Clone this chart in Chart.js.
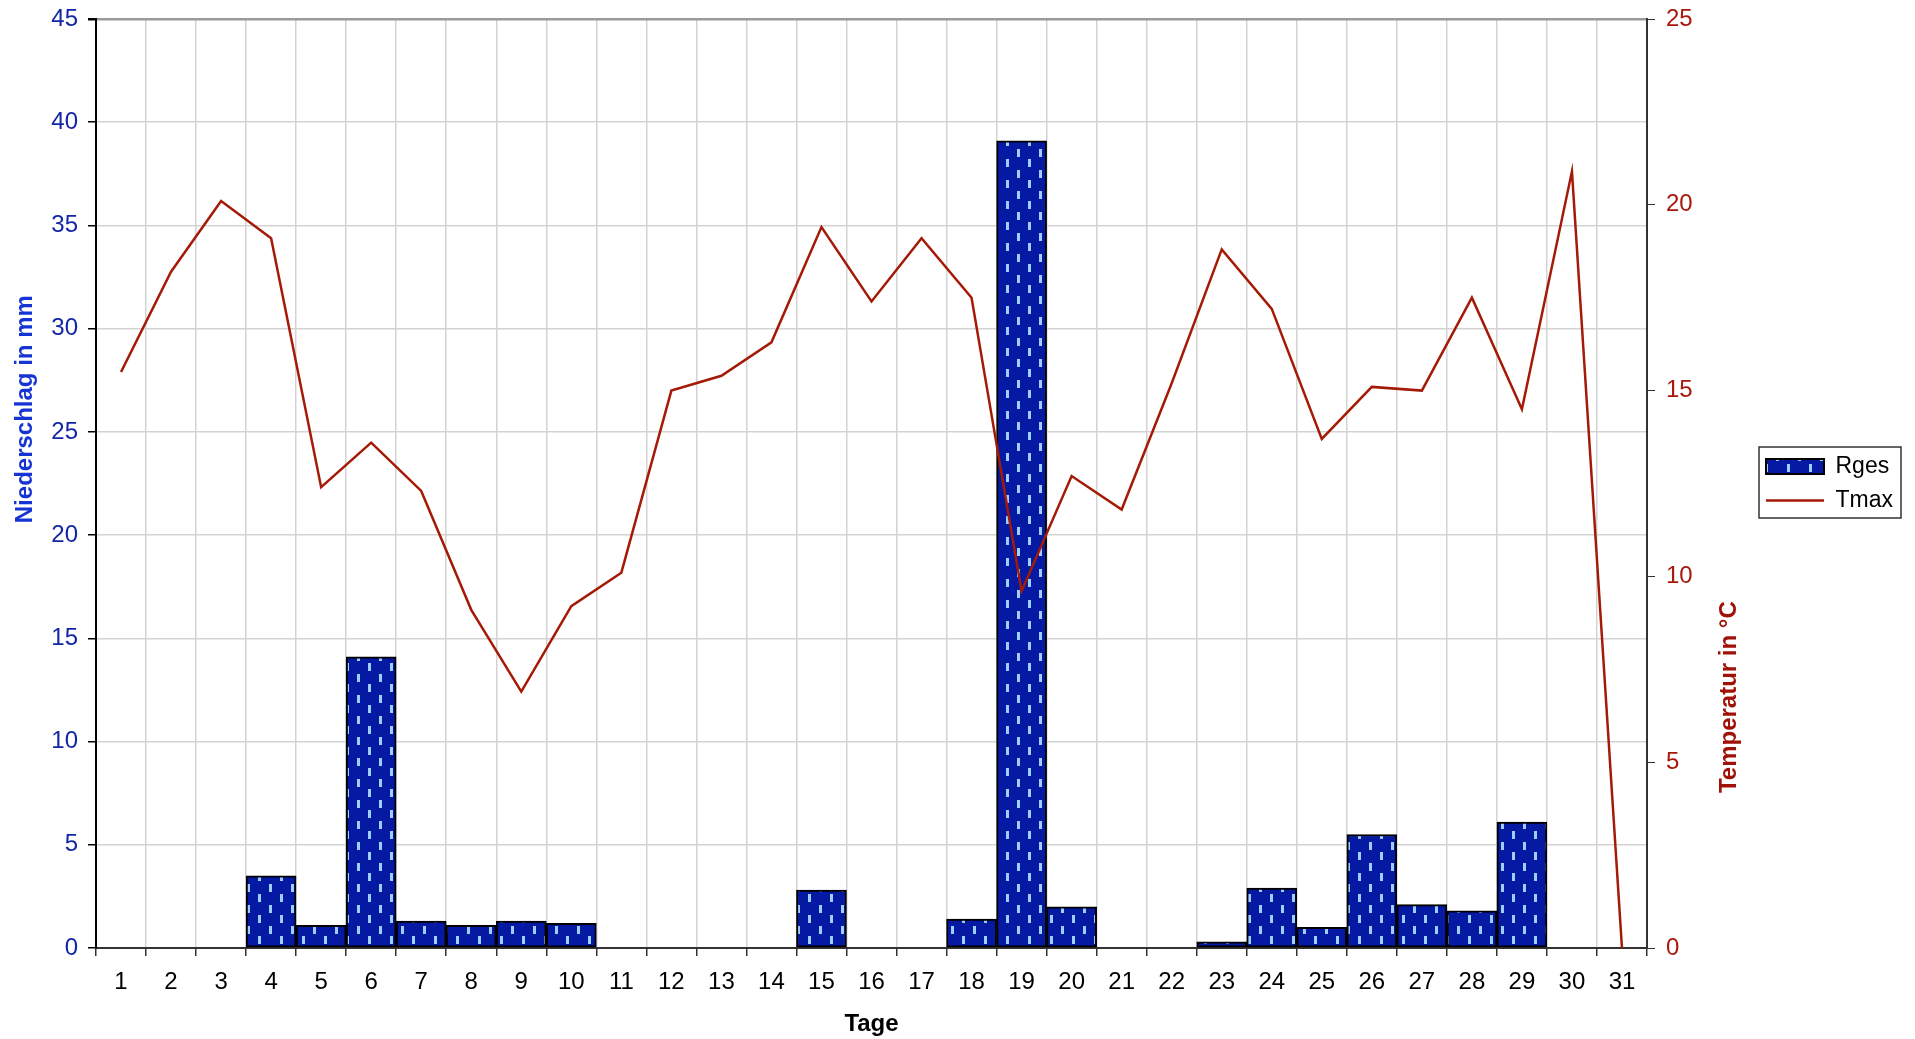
<!DOCTYPE html>
<html lang="de">
<head>
<meta charset="utf-8">
<title>Niederschlag und Temperatur</title>
<script src="https://cdn.jsdelivr.net/npm/chart.js@4.4.1/dist/chart.umd.min.js"></script>
<style>
  html, body { margin: 0; padding: 0; background: #fff; overflow: hidden; }
  canvas { display: block; }
</style>
</head>
<body>
<canvas id="chart" width="1915" height="1039"></canvas>
<script>
// Tage des Monats
var tage = ['1', '2', '3', '4', '5', '6', '7', '8', '9', '10', '11', '12', '13', '14', '15', '16',
            '17', '18', '19', '20', '21', '22', '23', '24', '25', '26', '27', '28', '29', '30', '31'];

// Niederschlag (mm)
var rges = [0, 0, 0, 3.5, 1.1, 14.1, 1.3, 1.1, 1.3, 1.2, 0, 0, 0, 0, 2.8, 0,
            0, 1.4, 39.1, 2.0, 0, 0, 0.3, 2.9, 1.0, 5.5, 2.1, 1.8, 6.1, 0, 0];

// Temperatur max (°C)
var tmax = [15.5, 18.2, 20.1, 19.1, 12.4, 13.6, 12.3, 9.1, 6.9, 9.2, 10.1, 15.0, 15.4, 16.3, 19.4, 17.4,
            19.1, 17.5, 9.6, 12.7, 11.8, 15.2, 18.8, 17.2, 13.7, 15.1, 15.0, 17.5, 14.5, 20.9, 0];

// Achsenbereiche
var niederschlagAchse = [0, 45, 5];   // min, max, step
var temperaturAchse = [0, 25, 5];

var blau = '#1226a6';
var rot = '#a8180c';

Chart.defaults.font.family = '"Liberation Sans", Arial, sans-serif';

function regenMuster() {
    var c = document.createElement('canvas');
    c.width = 22;
    c.height = 21;
    var g = c.getContext('2d');
    g.fillStyle = '#0519a3';
    g.fillRect(0, 0, 22, 21);
    g.fillStyle = '#9ccfff';
    g.fillRect(5, 2, 3, 8);
    g.fillRect(16, 12, 3, 8);
    return g.createPattern(c, 'repeat');
}

// Achsentitel sitzen nicht mittig, daher selbst zeichnen
var seitenTitel = {
    id: 'seitenTitel',
    afterDraw: function (chart) {
        var ctx = chart.ctx;
        var area = chart.chartArea;
        var h = area.bottom - area.top;
        ctx.save();
        ctx.font = 'bold 24px "Liberation Sans", Arial, sans-serif';
        ctx.textAlign = 'center';
        ctx.textBaseline = 'middle';

        ctx.save();
        ctx.translate(chart.scales.y.left + 25, area.top + 0.42 * h);
        ctx.rotate(-Math.PI / 2);
        ctx.fillStyle = '#1634d4';
        ctx.fillText('Niederschlag in mm', 0, 0);
        ctx.restore();

        ctx.save();
        ctx.translate(chart.scales.y1.left + 82, area.top + 0.73 * h);
        ctx.rotate(-Math.PI / 2);
        ctx.fillStyle = '#a01208';
        ctx.fillText('Temperatur in °C', 0, 0);
        ctx.restore();

        ctx.restore();
    }
};

// Rahmen um die Legende
var legendenRahmen = {
    id: 'legendenRahmen',
    afterDraw: function (chart) {
        var boxes = chart.legend && chart.legend.legendHitBoxes;
        if (!boxes || !boxes.length) return;
        var l = Infinity, r = -Infinity, t = Infinity, b = -Infinity;
        boxes.forEach(function (hb) {
            l = Math.min(l, hb.left);
            r = Math.max(r, hb.left + hb.width);
            t = Math.min(t, hb.top);
            b = Math.max(b, hb.top + hb.height);
        });
        var ctx = chart.ctx;
        ctx.save();
        ctx.strokeStyle = '#333';
        ctx.lineWidth = 1.5;
        ctx.strokeRect(l - 7, t - 8, r - l + 15, b - t + 14);
        ctx.restore();
    }
};

function festeBreite(w) {
    return function (s) {
        s.width = w;
        s.paddingTop = 0;
        s.paddingBottom = 0;
    };
}

var ctx = document.getElementById('chart').getContext('2d');

new Chart(ctx, {
    data: {
        labels: tage,
        datasets: [{
            type: 'bar',
            label: 'Rges',
            data: rges,
            yAxisID: 'y',
            backgroundColor: regenMuster(),
            borderColor: '#000',
            borderWidth: 2,
            borderSkipped: false,
            barPercentage: 1,
            categoryPercentage: 1,
            pointStyle: 'rect',
            order: 1
        }, {
            type: 'line',
            label: 'Tmax',
            data: tmax,
            yAxisID: 'y1',
            borderColor: '#a51a06',
            backgroundColor: '#a51a06',
            borderWidth: 2.5,
            pointRadius: 0,
            pointStyle: 'line',
            tension: 0,
            order: 0
        }]
    },
    options: {
        responsive: false,
        animation: false,
        devicePixelRatio: 1,
        layout: {
            padding: { top: 19, right: 12, left: 0, bottom: 0 }
        },
        plugins: {
            tooltip: { enabled: false },
            legend: {
                position: 'right',
                fullSize: false,
                labels: {
                    color: '#000',
                    font: { size: 23 },
                    usePointStyle: true,
                    pointStyleWidth: 58,
                    boxHeight: 15,
                    padding: 11,
                    sort: function (a, b) { return a.datasetIndex - b.datasetIndex; }
                }
            }
        },
        scales: {
            x: {
                offset: true,
                grid: { color: '#d3d3d3', lineWidth: 1.5, offset: true, tickColor: '#333', tickLength: 8 },
                border: { color: '#333', width: 2 },
                ticks: { color: '#000', font: { size: 24 }, padding: 12, maxRotation: 0, autoSkip: false },
                title: {
                    display: true,
                    text: 'Tage',
                    color: '#000',
                    font: { size: 24, weight: 'bold' },
                    padding: { top: 0, bottom: 0 }
                },
                afterFit: function (s) { s.height = 91; }
            },
            y: {
                position: 'left',
                min: niederschlagAchse[0],
                max: niederschlagAchse[1],
                ticks: { stepSize: niederschlagAchse[2], color: blau, font: { size: 24 }, padding: 10 },
                grid: {
                    color: function (c) { return c.tick && c.tick.value === niederschlagAchse[1] ? '#9a9a9a' : '#d3d3d3'; },
                    lineWidth: function (c) { return c.tick && c.tick.value === niederschlagAchse[1] ? 2.5 : 1.5; },
                    tickColor: '#000',
                    tickLength: 8
                },
                border: { color: '#000', width: 2 },
                afterFit: festeBreite(96)
            },
            y1: {
                position: 'right',
                min: temperaturAchse[0],
                max: temperaturAchse[1],
                ticks: { stepSize: temperaturAchse[2], color: rot, font: { size: 24 }, padding: 11 },
                grid: { drawOnChartArea: false, tickColor: '#333', tickLength: 8 },
                border: { color: '#333', width: 2 },
                afterFit: festeBreite(108)
            }
        }
    },
    plugins: [seitenTitel, legendenRahmen]
});
</script>
</body>
</html>
